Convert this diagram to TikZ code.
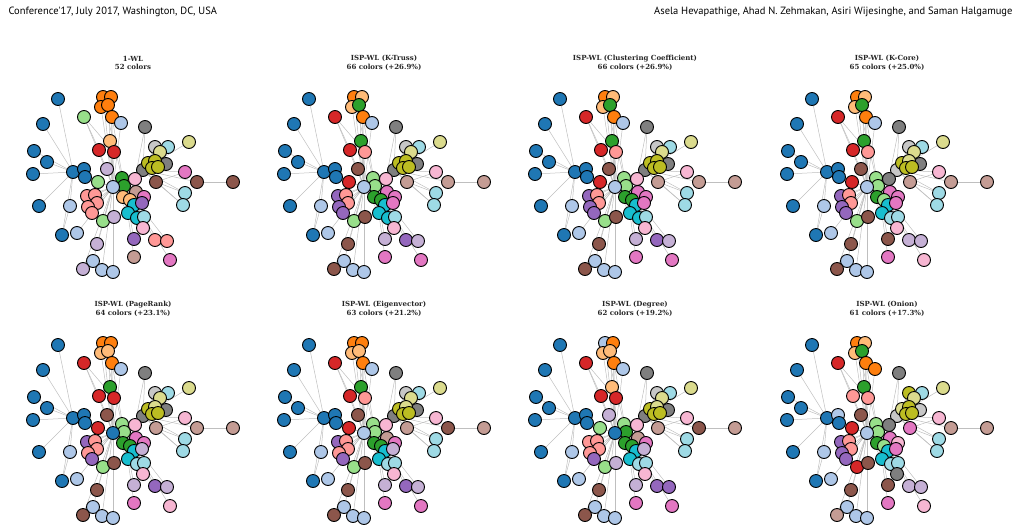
\documentclass[tikz,border=0pt]{standalone}
\usepackage{fontspec}
\setmainfont{DejaVu Serif}
\newfontfamily\hdfont{PT Sans}
\pgfdeclarelayer{bg}\pgfsetlayers{bg,main}
\definecolor{cB}{HTML}{1F77B4}\definecolor{cb}{HTML}{AEC7E8}
\definecolor{cO}{HTML}{FF7F0E}\definecolor{co}{HTML}{FFBB78}
\definecolor{cG}{HTML}{2CA02C}\definecolor{cg}{HTML}{98DF8A}
\definecolor{cR}{HTML}{D62728}\definecolor{cr}{HTML}{FF9896}
\definecolor{cP}{HTML}{9467BD}\definecolor{cp}{HTML}{C5B0D5}
\definecolor{cN}{HTML}{8C564B}\definecolor{cn}{HTML}{C49C94}
\definecolor{cK}{HTML}{E377C2}\definecolor{ck}{HTML}{F7B6D2}
\definecolor{cY}{HTML}{7F7F7F}\definecolor{cy}{HTML}{C7C7C7}
\definecolor{cL}{HTML}{BCBD22}\definecolor{cl}{HTML}{DBDB8D}
\definecolor{cC}{HTML}{17BECF}\definecolor{cc}{HTML}{9EDAE5}
\def\colsa{B,B,B,B,B,B,B,B,B,B,b,b,g,O,O,O,O,O,b,o,R,R,Y,y,c,l,l,Y,Y,L,L,L,L,p,g,G,G,b,k,N,K,N,N,n,r,r,r,r,r,o,o,K,C,P,C,C,c,c,c,g,p,k,P,r,r,n,K,p,b,p,b,b}
\def\colsb{B,B,B,B,B,B,B,B,B,B,b,b,R,O,o,o,G,O,b,G,R,r,Y,y,c,l,l,Y,Y,L,L,L,L,N,R,g,g,b,k,n,k,n,n,K,P,r,r,P,P,G,G,K,C,K,C,C,c,c,c,g,N,k,p,P,p,K,K,N,b,N,b,b}
\let\colsc\colsb
\def\colsd{B,B,B,B,B,B,B,B,B,B,b,b,R,O,o,o,G,O,b,G,R,r,Y,y,c,l,l,Y,y,L,l,L,L,N,R,g,g,b,Y,n,k,n,n,K,P,r,r,P,P,G,g,K,C,K,C,c,c,c,c,g,N,k,N,p,p,K,k,N,b,N,b,b}
\def\colse{B,B,B,B,B,B,B,B,B,B,b,b,R,O,O,o,o,O,b,G,R,R,Y,y,c,l,l,Y,Y,L,l,L,L,N,R,g,g,B,k,n,k,n,n,K,P,r,r,r,P,G,G,K,C,p,C,c,c,c,c,g,N,k,p,P,p,K,k,N,b,N,b,b}
\def\colsf{B,B,B,B,B,B,B,B,B,B,b,b,R,O,O,o,o,O,b,G,R,r,Y,y,c,l,l,Y,Y,L,l,L,L,N,R,g,g,b,k,n,k,N,n,n,P,r,r,r,P,G,G,K,C,p,C,c,c,c,c,g,N,k,p,P,p,K,K,N,b,N,b,b}
\def\colsg{B,B,B,B,B,B,B,B,B,B,b,b,R,b,O,o,o,O,b,o,R,R,Y,y,c,l,l,Y,Y,L,l,L,L,p,g,g,G,B,k,n,k,N,n,n,r,r,r,r,P,G,G,K,C,p,C,c,c,c,c,g,p,k,p,P,P,K,K,N,b,N,b,b}
\def\colsh{B,B,B,B,B,B,B,B,b,B,b,b,R,O,o,o,G,O,O,G,r,r,Y,L,c,l,l,y,y,l,L,L,L,N,R,g,g,b,Y,K,k,n,n,K,P,r,r,P,P,G,g,k,C,K,C,c,c,c,c,R,N,Y,N,p,p,K,k,N,b,n,b,b}
\tikzset{nd/.style={circle,draw=black,line width=0.9pt,minimum size=13pt,inner sep=0pt},
 edge/.style={draw=black!25,line width=0.5pt},
 ttl/.style={font=\bfseries\fontsize{7}{8.5}\selectfont,text=black!85,align=center}}
\begin{document}
\begin{tikzpicture}[x=1pt,y=-1pt]
\useasboundingbox (0,0) rectangle (1021,531);
\node[anchor=west,font=\hdfont\fontsize{10.5}{12}\selectfont] (hl) at (5,12) {Conference'17, July 2017, Washington, DC, USA};
\node[anchor=east,font=\hdfont\fontsize{10.5}{12}\selectfont] (hr) at (1016,12) {Asela Hevapathige, Ahad N. Zehmakan, Asiri Wijesinghe, and Saman Halgamuge};
\foreach \i/\x/\y in {1/58/99,2/43/124,3/34/151,4/47/162,5/33/174,6/39/206,7/62/235,8/73/172,9/84/169,10/85/177,11/70/206,12/77/233,13/84/117,14/103/97,15/111/97,16/101/107,17/108/105,18/112/117,19/121/123,20/110/141,21/99/150,22/114/152,23/145/127,24/155/147,25/168/147,26/160/152,27/189/142,28/166/164,29/143/170,30/148/163,31/155/161,32/152/168,33/158/167,34/107/169,35/98/182,36/122/178,37/124/186,38/113/187,39/135/179,40/156/182,41/185/172,42/197/182,43/233/182,44/136/192,45/87/196,46/95/195,47/97/203,48/88/207,49/92/213,50/123/197,51/130/200,52/144/197,53/134/205,54/142/203,55/128/213,56/137/218,57/144/217,58/185/193,59/183/205,60/103/221,61/114/217,62/143/228,63/134/239,64/155/240,65/167/241,66/134/257,67/170/260,68/97/244,69/93/261,70/83/269,71/102/270,72/113/272}
 {\expandafter\xdef\csname px\i\endcsname{\x}\expandafter\xdef\csname py\i\endcsname{\y}}
\foreach \pn/\dx/\dy/\ta/\tb in {a/0/0/{1-WL}/{52 colors},
 b/251/0/{ISP-WL (K-Truss)}/{66 colors (+26.9\%)},
 c/502/0/{ISP-WL (Clustering Coefficient)}/{66 colors (+26.9\%)},
 d/754/0/{ISP-WL (K-Core)}/{65 colors (+25.0\%)},
 e/0/246/{ISP-WL (PageRank)}/{64 colors (+23.1\%)},
 f/251/246/{ISP-WL (Eigenvector)}/{63 colors (+21.2\%)},
 g/502/246/{ISP-WL (Degree)}/{62 colors (+19.2\%)},
 h/754/246/{ISP-WL (Onion)}/{61 colors (+17.3\%)}}{
 \edef\curcols{\csname cols\pn\endcsname}
 \node[ttl] (t\pn) at (133+\dx,63+\dy) {\ta\\\tb};
 \foreach \c [count=\i] in \curcols {
   \node[nd,fill=c\c] (P\pn-\i) at ({\csname px\i\endcsname+\dx},{\csname py\i\endcsname+\dy}) {};
 }
 \begin{pgfonlayer}{bg}
 \foreach \a/\b in {8/1,8/2,8/3,8/4,8/5,8/6,8/7,8/9,8/10,8/11,38/8,38/12,38/13,38/19,38/20,38/21,38/22,38/34,38/35,38/45,38/46,38/47,38/48,38/49,38/60,38/61,38/68,38/69,38/70,38/71,38/72,38/36,38/37,38/44,38/50,38/51,38/53,38/55,38/14,38/15,38/16,38/17,38/18,36/14,37/18,29/23,29/24,29/25,29/26,29/27,29/28,29/30,29/31,29/32,29/33,29/41,29/42,29/58,29/59,29/40,29/39,42/43,40/58,40/59,40/41,37/62,37/63,37/64,37/65,37/66,37/67,37/52,37/54,37/56,37/57,13/21,13/22,39/23,11/7}
   {\draw[edge] (P\pn-\a) -- (P\pn-\b);}
 \end{pgfonlayer}
}
\end{tikzpicture}
\end{document}
